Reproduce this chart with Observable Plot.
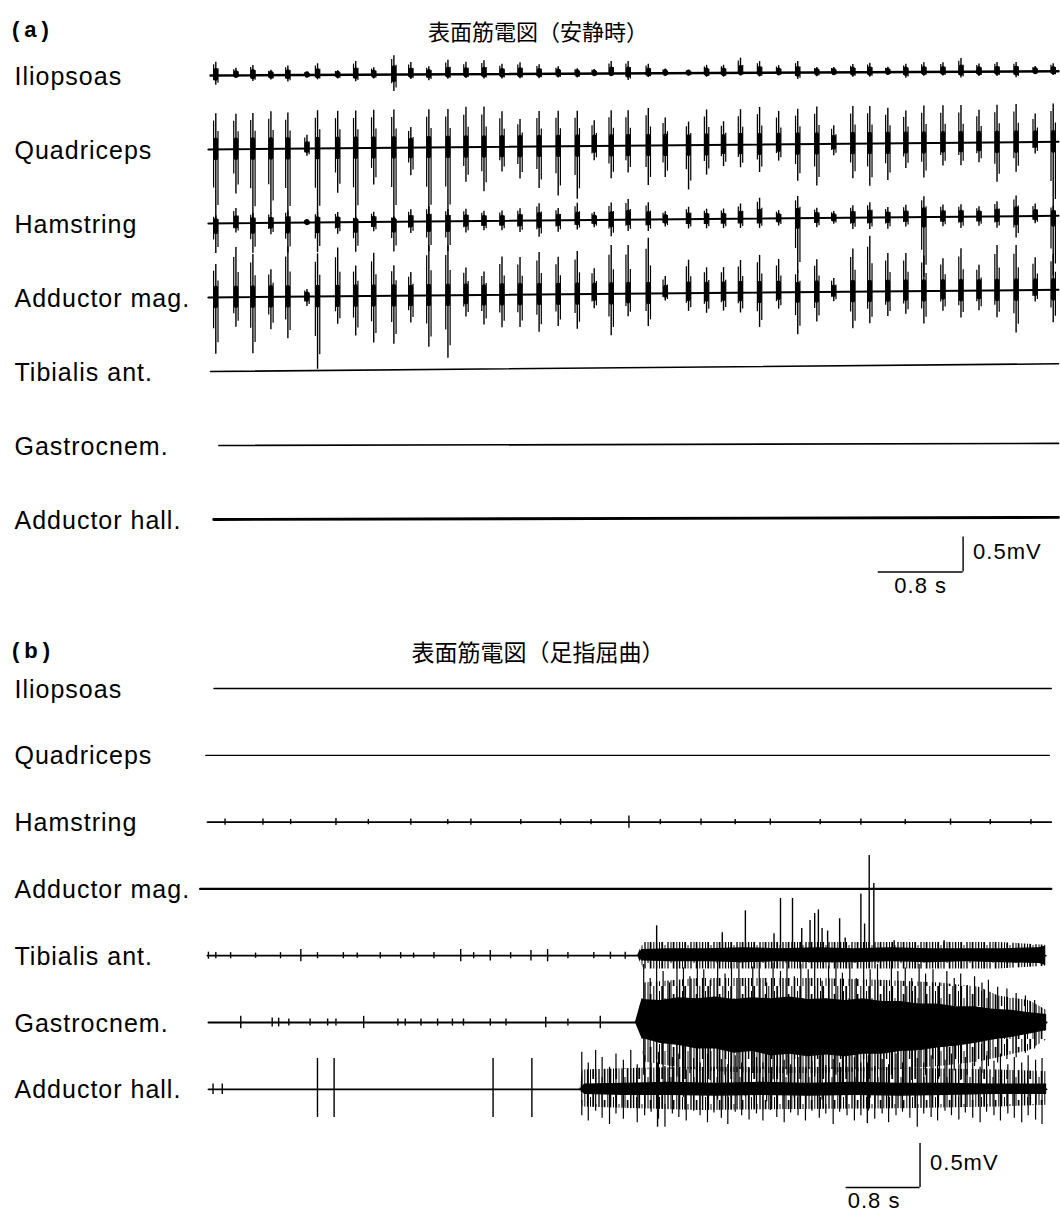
<!DOCTYPE html>
<html><head><meta charset="utf-8">
<script src="https://cdn.jsdelivr.net/npm/d3@7"></script>
<script src="https://cdn.jsdelivr.net/npm/@observablehq/plot@0.6"></script>
<style>
body{margin:0;background:#fff;width:1060px;height:1211px;overflow:hidden;font-family:"Liberation Sans",Arial,sans-serif;color:#000}
.ttl{position:relative;width:1060px}
.ttl .tag{position:absolute;left:12px;font-size:22px;font-weight:bold;letter-spacing:5px;line-height:24px}
.ttl .main{position:absolute;left:0;width:1076px;text-align:center;font-family:"Noto Sans CJK JP",sans-serif;line-height:24px}
svg text{letter-spacing:1px}
</style></head>
<body>
<svg width="0" height="0" style="position:absolute">
<defs>
<pattern id="emgHatch" width="23" height="53" patternUnits="userSpaceOnUse">
<path d="M1,0V53" stroke="#000" stroke-width="1.3"/>
<path d="M4,0V30M4,38V53" stroke="#000" stroke-width="1"/>
<path d="M6.6,8V53" stroke="#000" stroke-width="1.7"/>
<path d="M9.8,0V45" stroke="#000" stroke-width="1"/>
<path d="M12.6,0V20M12.6,28V53" stroke="#000" stroke-width="1.4"/>
<path d="M15.5,5V53" stroke="#000" stroke-width="1"/>
<path d="M18.2,0V40" stroke="#000" stroke-width="1.8"/>
<path d="M21,12V53" stroke="#000" stroke-width="0.9"/>
</pattern>
</defs></svg>
<div class="ttl" style="height:45px"><span class="tag" style="top:18px">(a)</span><span class="main" style="top:18px;font-size:22px">表面筋電図（安静時）</span></div>
<div id="pa"></div>
<div class="ttl" style="height:48px"><span class="tag" style="top:19px">(b)</span><span class="main" style="top:19px;font-size:23px">表面筋電図（足指屈曲）</span></div>
<div id="pb"></div>
<script>
// ---------------- DATA ----------------
const channels = ["Iliopsoas","Quadriceps","Hamstring","Adductor mag.","Tibialis ant.","Gastrocnem.","Adductor hall."];
const scaleLabels = {time: "0.8 s", volt: "0.5mV"};
const scaleValues = {time: 0.8, volt: 0.5};

// (a) resting tremor bursts: time (s), amplitude above / below baseline (mV)
const burstTimesA = [0.05,0.24,0.40,0.57,0.73,0.91,1.01,1.20,1.37,1.54,1.73,1.89,2.06,2.24,2.41,2.58,2.75,2.92,3.10,3.28,3.46,3.62,3.78,3.94,4.13,4.29,4.51,4.68,4.84,5.00,5.18,5.36,5.54,5.72,5.88,6.06,6.22,6.39,6.56,6.73,6.91,7.08,7.25,7.42,7.60,7.78,7.95];
const iliopsoasUpA = [0.19,0.1,0.14,0.07,0.13,0.04,0.16,0.06,0.19,0.1,0.27,0.17,0.11,0.2,0.17,0.19,0.14,0.16,0.13,0.1,0.07,0.06,0.17,0.17,0.13,0.06,0.04,0.11,0.11,0.21,0.16,0.1,0.16,0.07,0.07,0.11,0.13,0.07,0.11,0.13,0.13,0.19,0.11,0.13,0.13,0.07,0.11];
const iliopsoasDownA = [0.14,0.04,0.09,0.07,0.1,0.04,0.07,0.06,0.1,0.06,0.24,0.07,0.09,0.07,0.06,0.07,0.07,0.07,0.07,0.06,0.06,0.04,0.04,0.1,0.06,0.04,0.04,0.06,0.06,0.04,0.06,0.04,0.1,0.06,0.04,0.07,0.07,0.04,0.09,0.06,0.06,0.09,0.07,0.07,0.09,0.04,0.06];
const quadricepsUpA = [0.51,0.5,0.51,0.53,0.51,0.19,0.54,0.53,0.53,0.54,0.54,0.29,0.54,0.54,0.57,0.57,0.5,0.39,0.5,0.5,0.5,0.36,0.5,0.5,0.53,0.39,0.33,0.5,0.33,0.5,0.53,0.47,0.5,0.53,0.26,0.53,0.53,0.5,0.46,0.53,0.53,0.53,0.46,0.53,0.54,0.4,0.54];
const quadricepsDownA = [1.0,0.64,1.03,0.93,1.03,0.11,1.03,0.64,1.03,0.53,1.03,0.4,1.03,1.03,0.5,0.64,0.36,0.46,0.6,0.71,0.76,0.21,0.47,0.39,0.57,0.46,0.64,0.43,0.31,0.33,0.4,0.24,0.53,0.6,0.17,0.5,0.61,0.53,0.36,0.5,0.33,0.33,0.29,0.57,0.43,0.17,1.03];
const hamstringUpA = [0.11,0.21,0.14,0.14,0.17,0.04,0.14,0.14,0.07,0.14,0.07,0.17,0.21,0.17,0.17,0.14,0.14,0.17,0.24,0.17,0.24,0.11,0.24,0.29,0.24,0.11,0.17,0.14,0.14,0.21,0.29,0.11,0.31,0.14,0.09,0.17,0.21,0.14,0.17,0.29,0.17,0.17,0.14,0.21,0.29,0.17,0.14];
const hamstringDownA = [0.43,0.14,0.43,0.17,0.43,0.04,0.43,0.17,0.43,0.14,0.43,0.17,0.43,0.43,0.17,0.14,0.14,0.17,0.24,0.17,0.14,0.11,0.24,0.17,0.17,0.11,0.14,0.14,0.14,0.14,0.14,0.11,0.79,0.14,0.09,0.17,0.17,0.17,0.14,0.86,0.14,0.17,0.14,0.17,0.31,0.11,0.86];
const adductorMagUpA = [0.47,0.71,0.61,0.39,0.71,0.1,0.61,0.69,0.43,0.61,0.43,0.33,0.71,0.71,0.39,0.33,0.54,0.53,0.6,0.53,0.61,0.36,0.69,0.69,0.79,0.24,0.47,0.36,0.36,0.46,0.53,0.47,0.31,0.46,0.19,0.61,0.79,0.54,0.54,0.5,0.46,0.6,0.36,0.64,0.64,0.46,0.5];
const adductorMagDownA = [0.81,0.43,0.81,0.47,0.6,0.14,1.04,0.4,0.57,0.67,0.69,0.39,0.74,0.9,0.31,0.43,0.47,0.47,0.54,0.46,0.5,0.21,0.6,0.33,0.47,0.11,0.26,0.29,0.26,0.29,0.5,0.24,0.61,0.43,0.14,0.53,0.46,0.36,0.33,0.47,0.29,0.39,0.29,0.39,0.61,0.17,0.47];
const baselineDriftA = [0.06,0.11,0.11,0.11,0.11,0.03,0.03];   // mV rise over the record
const traceStartA = [0,-0.02,-0.02,-0.02,0,0.08,0.03];          // s
const durationA = 8.0;

// (b) toe flexion
const traceStartB = [0.07,-0.02,0,-0.08,0,0.01,0.01];
const traceEndB = [9.13,9.11,9.13,9.13,9.07,9.08,9.08];
const durationB = 9.1;
const hamstringTickT = [0.19,0.6,0.9,1.39,1.74,2.2,2.6,2.85,3.39,3.82,4.15,4.56,4.9,5.34,5.71,6.09,6.63,7.07,7.55,8.04,8.47,8.91];
const hamstringTickAmp = [0.035,0.035,0.03,0.04,0.03,0.035,0.03,0.035,0.03,0.035,0.03,0.07,0.03,0.035,0.03,0.035,0.03,0.035,0.03,0.035,0.03,0.03];
const tibialisTickT = [0.01,0.09,0.25,0.52,0.79,1.01,1.19,1.47,1.62,1.87,2.09,2.23,2.45,2.74,2.88,3.06,3.28,3.5,3.68,3.9,4.18,4.36,4.52];
const tibialisTickAmp = [0.04,0.035,0.035,0.03,0.035,0.07,0.035,0.035,0.03,0.035,0.035,0.03,0.035,0.07,0.035,0.06,0.035,0.06,0.07,0.035,0.035,0.04,0.04];
const gastrocTickT = [0.36,0.7,0.77,0.88,1.11,1.3,1.39,1.69,2.06,2.14,2.31,2.49,2.65,2.77,3.06,3.23,3.66,3.9,4.25];
const gastrocTickAmp = [0.07,0.05,0.05,0.04,0.04,0.04,0.04,0.07,0.04,0.04,0.04,0.04,0.04,0.04,0.04,0.04,0.06,0.04,0.07];
const tibialisSpikeT = [4.86,5.57,5.82,6.13,6.20,6.33,6.43,6.52,6.57,6.61,6.65,6.71,6.84,6.90,7.07,7.11,7.16,7.21,7.43,7.97];
const tibialisSpikeUp = [0.34,0.26,0.51,0.25,0.65,0.65,0.31,0.4,0.48,0.52,0.31,0.28,0.42,0.2,0.7,0.36,1.14,0.82,0.17,0.17];
const hallSpikeT = [0.06,0.16,1.19,1.37,3.09,3.51,4.87,7.14];
const hallSpikeUp = [0.06,0.06,0.35,0.35,0.35,0.35,0.3,0.3];
const hallSpikeDown = [0.06,0.06,0.32,0.32,0.32,0.32,0.43,0.39];
// individual large potentials in the interference pattern
const gastrocBurstT = [4.72,4.79,4.86,4.93,5.0,5.08,5.15,5.22,5.3,5.37,5.44,5.52,5.6,5.67,5.75,5.82,5.9,5.97,6.05,6.12,6.2,6.27,6.35,6.42,6.5,6.57,6.65,6.72,6.8,6.87,6.95,7.02,7.1,7.17,7.25,7.32,7.4,7.47,7.55,7.62,7.7,7.77,7.85,7.92,8.0,8.08,8.15,8.22,8.3,8.38,8.45,8.55,8.65,8.75,8.85,8.95];
const gastrocBurstUp = [0.66,0.5,0.72,0.58,0.45,0.7,0.62,0.52,0.74,0.6,0.48,0.7,0.55,0.66,0.72,0.5,0.63,0.7,0.45,0.68,0.58,0.73,0.52,0.66,0.6,0.71,0.47,0.64,0.7,0.56,0.68,0.5,0.72,0.6,0.66,0.48,0.7,0.58,0.62,0.5,0.66,0.55,0.6,0.45,0.58,0.5,0.55,0.42,0.52,0.45,0.48,0.4,0.38,0.33,0.3,0.25];
const gastrocBurstDown = [0.6,0.75,0.55,0.82,0.7,0.62,0.85,0.58,0.72,0.8,0.66,0.88,0.6,0.75,0.7,0.84,0.58,0.78,0.9,0.65,0.8,0.6,0.86,0.7,0.76,0.62,0.88,0.72,0.6,0.82,0.7,0.77,0.64,0.86,0.68,0.8,0.6,0.74,0.83,0.66,0.72,0.6,0.78,0.62,0.7,0.55,0.66,0.6,0.5,0.58,0.5,0.46,0.42,0.4,0.35,0.3];
const hallBurstT = [4.05,4.12,4.2,4.27,4.35,4.42,4.5,4.58,4.65,4.73,4.8,4.88,4.95,5.03,5.1,5.18,5.26,5.33,5.41,5.48,5.56,5.63,5.71,5.78,5.86,5.94,6.01,6.09,6.16,6.24,6.31,6.39,6.47,6.54,6.62,6.69,6.77,6.84,6.92,7.0,7.07,7.15,7.22,7.3,7.37,7.45,7.52,7.6,7.68,7.75,7.83,7.9,7.98,8.05,8.13,8.2,8.28,8.36,8.43,8.51,8.58,8.66,8.73,8.81,8.88,8.96,9.03];
const hallBurstUp = [0.42,0.3,0.44,0.36,0.25,0.4,0.33,0.44,0.28,0.38,0.3,0.42,0.26,0.36,0.4,0.22,0.35,0.3,0.4,0.25,0.34,0.28,0.38,0.3,0.24,0.36,0.3,0.4,0.26,0.33,0.28,0.36,0.24,0.32,0.38,0.27,0.34,0.3,0.25,0.36,0.3,0.38,0.26,0.34,0.28,0.4,0.3,0.25,0.35,0.3,0.38,0.27,0.33,0.4,0.28,0.36,0.3,0.25,0.38,0.32,0.4,0.28,0.36,0.3,0.38,0.33,0.35];
const hallBurstDown = [0.3,0.36,0.25,0.33,0.4,0.28,0.34,0.22,0.38,0.3,0.26,0.34,0.43,0.28,0.32,0.36,0.25,0.3,0.38,0.27,0.33,0.4,0.26,0.3,0.35,0.28,0.36,0.24,0.32,0.38,0.27,0.3,0.36,0.25,0.33,0.28,0.4,0.26,0.3,0.36,0.3,0.25,0.34,0.28,0.38,0.3,0.26,0.33,0.43,0.28,0.32,0.36,0.25,0.3,0.35,0.27,0.33,0.38,0.26,0.3,0.36,0.28,0.33,0.38,0.3,0.35,0.4];
// envelopes of the dense interference pattern (mV above / below baseline)
const tibialisEnvT = [4.65,4.72,8.56,9.07];
const tibialisEnvUp = [0,0.15,0.15,0.12];
const tibialisEnvDown = [0,0.15,0.15,0.12];
const tibialisCoreT = [4.65,4.70,5.0,5.4,5.8,6.2,6.6,7.0,7.4,7.8,8.2,8.6,9.0,9.07];
const tibialisCoreUp = [0,0.07,0.08,0.08,0.09,0.08,0.09,0.08,0.09,0.08,0.08,0.08,0.09,0.11];
const tibialisCoreDown = [0,0.06,0.07,0.07,0.08,0.07,0.08,0.08,0.07,0.08,0.07,0.08,0.09,0.11];
const gastrocEnvT = [4.65,4.73,5.32,5.97,6.62,7.27,7.92,8.35,8.56,8.89,9.08];
const gastrocEnvUp = [0,0.45,0.5,0.5,0.5,0.48,0.45,0.4,0.3,0.25,0.14];
const gastrocEnvDown = [0,0.45,0.55,0.58,0.58,0.55,0.5,0.45,0.4,0.32,0.2];
const gastrocCoreT = [4.63,4.70,4.9,5.1,5.3,5.5,5.7,5.9,6.1,6.3,6.5,6.7,6.9,7.1,7.3,7.5,7.7,7.9,8.1,8.3,8.5,8.7,8.9,9.08];
const gastrocCoreUp = [0,0.26,0.25,0.28,0.27,0.29,0.26,0.28,0.27,0.29,0.26,0.27,0.25,0.27,0.24,0.24,0.21,0.21,0.18,0.18,0.15,0.14,0.11,0.09];
const gastrocCoreDown = [0,0.18,0.24,0.26,0.3,0.3,0.35,0.33,0.38,0.36,0.39,0.37,0.39,0.36,0.36,0.33,0.32,0.29,0.27,0.24,0.2,0.17,0.13,0.09];
const hallEnvT = [4.03,4.06,4.68,5.32,6.40,7.48,8.56,9.08];
const hallEnvUp = [0,0.22,0.24,0.25,0.25,0.24,0.22,0.2];
const hallEnvDown = [0,0.2,0.22,0.24,0.23,0.22,0.2,0.18];
const hallCoreT = [4.03,4.08,4.5,5.0,5.5,6.0,6.5,7.0,7.5,8.0,8.5,9.08];
const hallCoreUp = [0,0.06,0.07,0.08,0.07,0.08,0.07,0.08,0.07,0.07,0.06,0.06];
const hallCoreDown = [0,0.06,0.07,0.07,0.08,0.07,0.08,0.07,0.08,0.07,0.06,0.06];

// ---------------- LAYOUT ----------------
const W = 1060;
const A = {ml: 210, mr: 2, h: 575, pxPerMv: 70, spacingPx: 74, firstPx: 30};
const B = {ml: 207, mr: 12, h: 543, pxPerMv: 88, spacingPx: 66.8, firstPx: 20};
const baseOf = (P, i) => -i * P.spacingPx / P.pxPerMv;
const yDomain = P => [P.firstPx / P.pxPerMv - P.h / P.pxPerMv, P.firstPx / P.pxPerMv];
const FONT = "'Liberation Sans', Arial, sans-serif";

function labelMark(P) {
  return Plot.text(channels, {y: (d, i) => baseOf(P, i), text: d => d, frameAnchor: "left",
    textAnchor: "start", dx: 14 - P.ml, dy: 1, fontSize: 25, fill: "#000"});
}
function scaleBar(P, end, yb, dxT, dyT) {
  return [
    Plot.ruleY([yb], {x1: end - scaleValues.time, x2: end, stroke: "#000", strokeWidth: 1.4}),
    Plot.ruleX([end], {y1: yb, y2: yb + scaleValues.volt, stroke: "#000", strokeWidth: 1.4}),
    Plot.text([scaleLabels.volt], {x: end, y: yb + scaleValues.volt / 2, text: d => d, dx: 10, dy: -3, textAnchor: "start", fontSize: 22}),
    Plot.text([scaleLabels.time], {x: end - scaleValues.time / 2, y: yb, text: d => d, dx: dxT, dy: dyT, fontSize: 22})
  ];
}

// ---------------- PANEL (a) ----------------
const burstSetsA = [[0, iliopsoasUpA, iliopsoasDownA],[1, quadricepsUpA, quadricepsDownA],[2, hamstringUpA, hamstringDownA],[3, adductorMagUpA, adductorMagDownA]];
const y0A = (i, t) => baseOf(A, i) + baselineDriftA[i] * t / durationA;
const burstsA = burstSetsA.flatMap(([i, up, down]) => burstTimesA.map((t, k) => ({t, i, y0: y0A(i, t), up: up[k], down: down[k]})));
const widthsA = [2.4, 2, 2, 2, 1.6, 1.7, 2.8];
const linesA = channels.map((c, i) => Plot.line([{t: traceStartA[i], v: y0A(i, 0)}, {t: durationA, v: y0A(i, durationA)}],
  {x: "t", y: "v", stroke: "#000", strokeWidth: widthsA[i]}));

const plotA = Plot.plot({
  width: W, height: A.h, marginLeft: A.ml, marginRight: A.mr, marginTop: 0, marginBottom: 0,
  x: {domain: [0, durationA], axis: null}, y: {domain: yDomain(A), axis: null},
  style: {fontFamily: FONT, color: "#000", background: "transparent", overflow: "visible"},
  marks: [
    ...linesA,
    Plot.ruleX(burstsA, {x: "t", y1: d => d.y0 - d.down, y2: d => d.y0 + d.up, stroke: "#000", strokeWidth: 1.4}),
    Plot.ruleX(burstsA, {x: "t", dx: -2.2, y1: d => d.y0 - d.down * 0.55, y2: d => d.y0 + d.up * 0.8, stroke: "#000", strokeWidth: 1.2}),
    Plot.ruleX(burstsA, {x: "t", dx: 2.2, y1: d => d.y0 - d.down * 0.8, y2: d => d.y0 + d.up * 0.5, stroke: "#000", strokeWidth: 1.2}),
    Plot.ruleX(burstsA, {x: "t", y1: d => d.y0 - Math.min(d.down * 0.35, 0.13), y2: d => d.y0 + Math.min(d.up * 0.35, 0.13), stroke: "#000", strokeWidth: 4.5, strokeLinecap: "round"}),
    labelMark(A),
    ...scaleBar(A, 7.10, baseOf(A, 6) - 0.75, 0, 14)
  ]
});
document.getElementById("pa").append(plotA);

// ---------------- PANEL (b) ----------------
const rowsB = (i, T, up, down) => T.map((t, k) => ({t, lo: baseOf(B, i) - down[k], hi: baseOf(B, i) + up[k]}));
const widthsB = [1.5, 1.3, 1.8, 2.2, 1.8, 1.8, 1.7];
const linesB = channels.map((c, i) => Plot.line([{t: traceStartB[i], v: baseOf(B, i)}, {t: traceEndB[i], v: baseOf(B, i)}],
  {x: "t", y: "v", stroke: "#000", strokeWidth: widthsB[i]}));
const ticksB = [
  ...rowsB(2, hamstringTickT, hamstringTickAmp, hamstringTickAmp),
  ...rowsB(4, tibialisTickT, tibialisTickAmp, tibialisTickAmp),
  ...rowsB(5, gastrocTickT, gastrocTickAmp, gastrocTickAmp)
];
const spikesB = [
  ...rowsB(4, tibialisSpikeT, tibialisSpikeUp, tibialisSpikeT.map(() => 0)),
  ...rowsB(6, hallSpikeT, hallSpikeUp, hallSpikeDown)
];
const denseB = [
  ...rowsB(5, gastrocBurstT, gastrocBurstUp, gastrocBurstDown),
  ...rowsB(6, hallBurstT, hallBurstUp, hallBurstDown)
];
const hatch = {x: "t", y1: "lo", y2: "hi", fill: "url(#emgHatch)", curve: "linear"};
const solid = {x: "t", y1: "lo", y2: "hi", fill: "#000", curve: "linear"};

const plotB = Plot.plot({
  width: W, height: B.h, marginLeft: B.ml, marginRight: B.mr, marginTop: 0, marginBottom: 0,
  x: {domain: [0, durationB], axis: null}, y: {domain: yDomain(B), axis: null},
  style: {fontFamily: FONT, color: "#000", background: "transparent", overflow: "visible"},
  marks: [
    Plot.areaY(rowsB(5, gastrocEnvT, gastrocEnvUp, gastrocEnvDown), hatch),
    Plot.areaY(rowsB(6, hallEnvT, hallEnvUp, hallEnvDown), hatch),
    Plot.areaY(rowsB(4, tibialisEnvT, tibialisEnvUp, tibialisEnvDown), hatch),
    Plot.ruleX(denseB, {x: "t", y1: "lo", y2: "hi", stroke: "#000", strokeWidth: 1.2}),
    Plot.areaY(rowsB(5, gastrocCoreT, gastrocCoreUp, gastrocCoreDown), solid),
    Plot.areaY(rowsB(6, hallCoreT, hallCoreUp, hallCoreDown), solid),
    Plot.areaY(rowsB(4, tibialisCoreT, tibialisCoreUp, tibialisCoreDown), solid),
    ...linesB,
    Plot.ruleX(ticksB, {x: "t", y1: "lo", y2: "hi", stroke: "#000", strokeWidth: 1.4}),
    Plot.ruleX(spikesB, {x: "t", y1: "lo", y2: "hi", stroke: "#000", strokeWidth: 1.4}),
    labelMark(B),
    ...scaleBar(B, 7.71, -5.67, -9, 13)
  ]
});
document.getElementById("pb").append(plotB);
</script>
</body></html>
